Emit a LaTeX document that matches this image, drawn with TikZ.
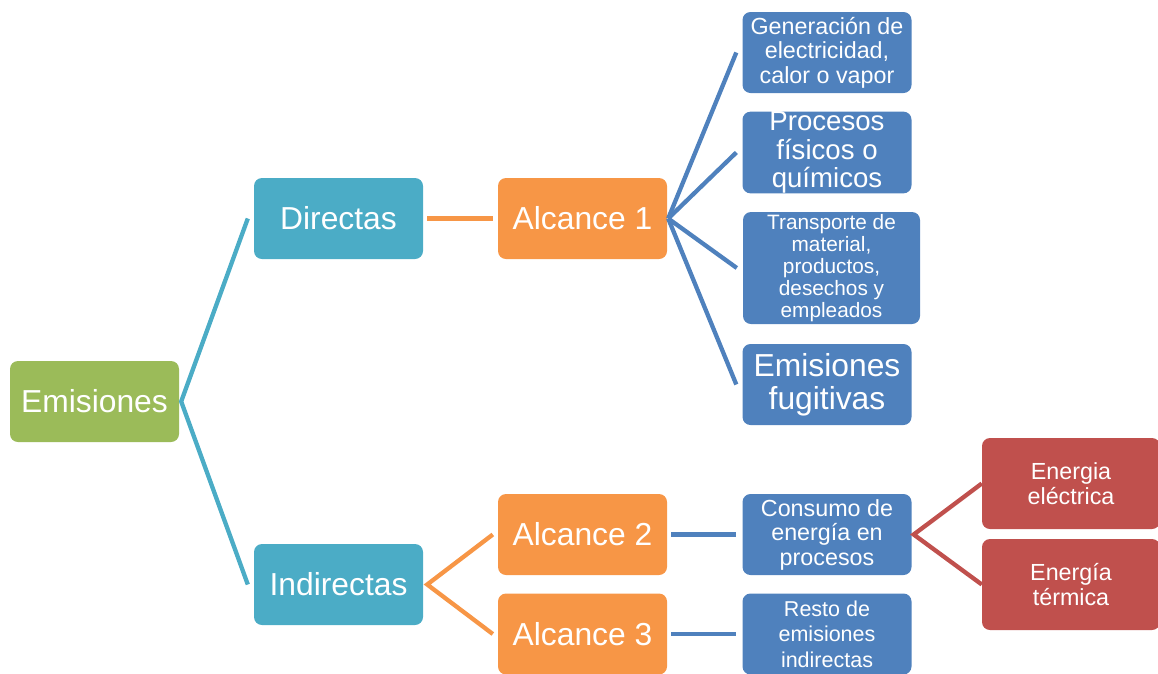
\documentclass[tikz,border=0pt]{standalone}
\usepackage{fontspec}
\setmainfont{Liberation Sans}
\definecolor{cgreen}{HTML}{9BBB59}
\definecolor{cteal}{HTML}{4BACC6}
\definecolor{corange}{HTML}{F79646}
\definecolor{cblue}{HTML}{4F81BD}
\definecolor{cred}{HTML}{C0504D}
\begin{document}
\begin{tikzpicture}[x=1pt,y=-1pt,
  box/.style={rounded corners=8pt, minimum width=169pt, minimum height=81pt, text=white, align=center, inner sep=0pt},
  big/.style={font=\fontsize{31.8}{33}\selectfont},
  mid/.style={font=\fontsize{23.3}{24.5}\selectfont},
  conn/.style={line width=4.3pt}]
\useasboundingbox (0,0) rectangle (1158,673);
% nodes
\node[box,big,fill=cgreen] (em) at (94.5,401.5) {Emisiones};
\node[box,big,fill=cteal] (dir) at (338.5,218.5) {Directas};
\node[box,big,fill=cteal] (ind) at (338.5,584.5) {Indirectas};
\node[box,big,fill=corange] (a1) at (582.5,218.5) {Alcance 1};
\node[box,big,fill=corange] (a2) at (582.5,534.5) {Alcance 2};
\node[box,big,fill=corange] (a3) at (582.5,634) {Alcance 3};
\node[box,mid,fill=cblue] (gen) at (827,52.5) {Generación de\\electricidad,\\calor o vapor};
\node[box,fill=cblue,font=\fontsize{27.6}{28.5}\selectfont] (pro) at (827,152.5) {Procesos\\físicos o\\químicos};
\node[box,fill=cblue,minimum width=177pt,minimum height=112pt,font=\fontsize{20.8}{22}\selectfont] (tra) at (831.5,268) {Transporte de\\material,\\productos,\\desechos y\\empleados};
\node[box,big,fill=cblue] (fug) at (827,384.5) {Emisiones\\fugitivas};
\node[box,mid,fill=cblue] (con) at (827,534.5) {Consumo de\\energía en\\procesos};
\node[box,fill=cblue,font=\fontsize{21.5}{25.5}\selectfont] (res) at (827,634) {Resto de\\emisiones\\indirectas};
\node[box,mid,fill=cred,minimum width=178pt,minimum height=91pt] (ee) at (1071,483.5) {Energia\\eléctrica};
\node[box,mid,fill=cred,minimum width=178pt,minimum height=91pt] (et) at (1071,584.5) {Energía\\térmica};
% connectors
\draw[conn,cteal] ([xshift=-6pt]dir.west) -- ([xshift=2pt]em.east) -- ([xshift=-6pt]ind.west);
\draw[conn,corange] ([xshift=4pt]dir.east) -- ([xshift=-5pt]a1.west);
\draw[conn,corange] ([xshift=-5pt]a2.west) -- ([xshift=4pt]ind.east) -- ([xshift=-5pt]a3.west);
\draw[conn,cblue] ([xshift=1pt]a1.east) -- ([xshift=-6pt]gen.west);
\draw[conn,cblue] ([xshift=1pt]a1.east) -- ([xshift=-6pt]pro.west);
\draw[conn,cblue] ([xshift=1pt]a1.east) -- ([xshift=-6pt]tra.west);
\draw[conn,cblue] ([xshift=1pt]a1.east) -- ([xshift=-6pt]fug.west);
\draw[conn,cblue] ([xshift=4pt]a2.east) -- ([xshift=-6pt]con.west);
\draw[conn,cblue] ([xshift=4pt]a3.east) -- ([xshift=-6pt]res.west);
\draw[conn,cred] (ee.west) -- ([xshift=2pt]con.east) -- (et.west);
\end{tikzpicture}
\end{document}
